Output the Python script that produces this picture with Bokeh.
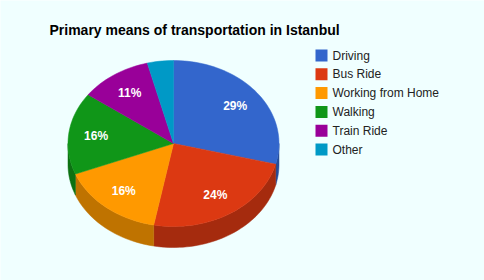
import math
from bokeh.plotting import figure
from bokeh.models import Range1d, ColumnDataSource
from bokeh.core.properties import value
from bokeh.embed import file_html
from bokeh.resources import INLINE

# ---- data ----
title_text = "Primary means of transportation in Istanbul"
categories = ["Driving", "Bus Ride", "Working from Home", "Walking", "Train Ride", "Other"]
values = [29, 24, 16, 16, 11, 4]
colors = ["#3366cc", "#dc3912", "#ff9900", "#109618", "#990099", "#0099c6"]
side_colors = ["#264d99", "#a52b0e", "#bf7300", "#0c7112", "#730073", "#007394"]

BG = "#f0ffff"
FONT = "Liberation Sans"

# ---- geometry (layout) ----
W, H = 484, 280
cx, cy = 173.0, 143.0
rx, ry = 105.5, 83.0
depth = 21.0
label_frac = 0.74

p = figure(width=W, height=H, output_backend="svg", toolbar_location=None,
           x_range=Range1d(0, W), y_range=Range1d(H, 0), min_border=0,
           background_fill_color=BG, border_fill_color=BG)
p.axis.visible = False
p.grid.visible = False
p.outline_line_color = None


def pt(t_deg, dy=0.0):
    t = math.radians(t_deg)
    return cx + rx * math.sin(t), cy - ry * math.cos(t) + dy


total = float(sum(values))
angles = []
acc = 0.0
for v in values:
    a0 = acc / total * 360.0
    acc += v
    a1 = acc / total * 360.0
    angles.append((a0, a1))

# side faces (front half of the disc: 90..270 deg clockwise from top)
side_xs, side_ys, side_c = [], [], []
for (a0, a1), sc in zip(angles, side_colors):
    s, e = max(a0, 90.0), min(a1, 270.0)
    if e <= s:
        continue
    n = max(4, int((e - s) / 2))
    top = [pt(s + (e - s) * i / n) for i in range(n + 1)]
    bot = [pt(e - (e - s) * i / n, depth) for i in range(n + 1)]
    poly = top + bot
    side_xs.append([q[0] for q in poly])
    side_ys.append([q[1] for q in poly])
    side_c.append(sc)
p.patches(xs="xs", ys="ys", fill_color="c", line_color="c", line_width=0.5,
          source=ColumnDataSource(dict(xs=side_xs, ys=side_ys, c=side_c)))

# top faces
top_xs, top_ys = [], []
for (a0, a1) in angles:
    n = max(4, int((a1 - a0) / 2))
    poly = [(cx, cy)] + [pt(a0 + (a1 - a0) * i / n) for i in range(n + 1)]
    top_xs.append([q[0] for q in poly])
    top_ys.append([q[1] for q in poly])
p.patches(xs="xs", ys="ys", fill_color="c", line_color="c", line_width=0.5,
          source=ColumnDataSource(dict(xs=top_xs, ys=top_ys, c=colors, name=categories)))

# slice labels
lx, ly, lt = [], [], []
for (a0, a1), v in zip(angles, values):
    if v / total < 0.05:
        continue
    m = math.radians((a0 + a1) / 2)
    lx.append(cx + label_frac * rx * math.sin(m))
    ly.append(cy - label_frac * ry * math.cos(m))
    lt.append("%d%%" % round(v / total * 100))
p.text(x="x", y="y", text="t", source=ColumnDataSource(dict(x=lx, y=ly, t=lt)),
       text_color="white", text_font=value(FONT), text_font_size="12px",
       text_font_style="bold",
       text_align="center", text_baseline="middle")

# title
p.text(x=[49], y=[29.5], text=[title_text], text_font=value(FONT),
       text_font_size="14px", text_font_style="bold", text_color="#000000",
       text_align="left", text_baseline="alphabetic")

# legend
leg_x0, leg_y0, leg_dy = 321.0, 55.0, 18.8
gy = [leg_y0 + i * leg_dy for i in range(len(categories))]
p.rect(x=[leg_x0] * len(categories), y=gy, width=12, height=12,
       fill_color=colors, line_color=None)
p.text(x=[leg_x0 + 11] * len(categories), y=gy, text=categories,
       text_font=value(FONT), text_font_size="12px", text_color="#222222",
       text_align="left", text_baseline="middle")

open("out.html", "w").write(file_html(p, INLINE))
